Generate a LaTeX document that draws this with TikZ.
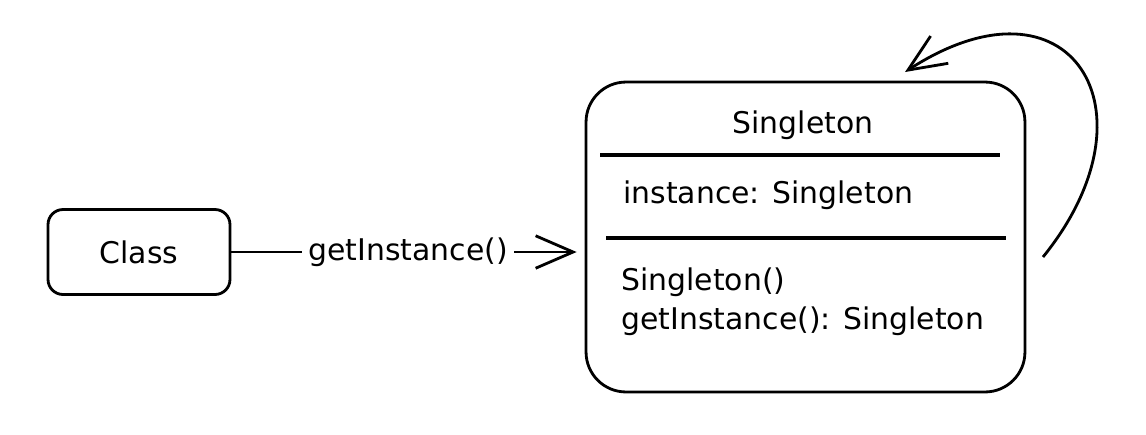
\documentclass[tikz,border=0pt]{standalone}
\usepackage{fontspec}
\setmainfont{DejaVu Sans}
\usetikzlibrary{arrows.meta}

\begin{document}
\begin{tikzpicture}[x=0.02cm, y=-0.02cm, line width=1.6pt,
  box/.style={draw, rounded corners=0.3cm, minimum width=3.64cm, minimum height=1.7cm},
  txt/.style={font=\fontsize{17}{22}\selectfont},
  arr/.style={-{Straight Barb[length=0.75cm, width=0.65cm, line width=1.6pt]}}]
\useasboundingbox (0,0) rectangle (1146,434);

\node[box, txt] (C) at (139,252) {Class};
\node[box, rounded corners=0.8cm, minimum width=8.78cm, minimum height=6.2cm] (S) at (805.5,237) {};

\node[txt] (title) at (803,125) {Singleton};
\node[txt, anchor=west] (attr) at (616,195) {instance: Singleton};
\node[txt, anchor=west, align=left] (ops) at (614,302) {Singleton()\\getInstance(): Singleton};

\draw[line width=2.4pt] (600,155) -- (1000,155);
\draw[line width=2pt] (606,238) -- (1006,238);

\draw[arr, shorten >=0.16cm] (C) -- node[txt, fill=white] (call) {getInstance()} (S.west |- C);

\coordinate (loopA) at (1043,257);
\coordinate (loopB) at (905,72);
\draw[arr] (loopA) .. controls (1162,110) and (1070,-35) .. (loopB);
\end{tikzpicture}
\end{document}
